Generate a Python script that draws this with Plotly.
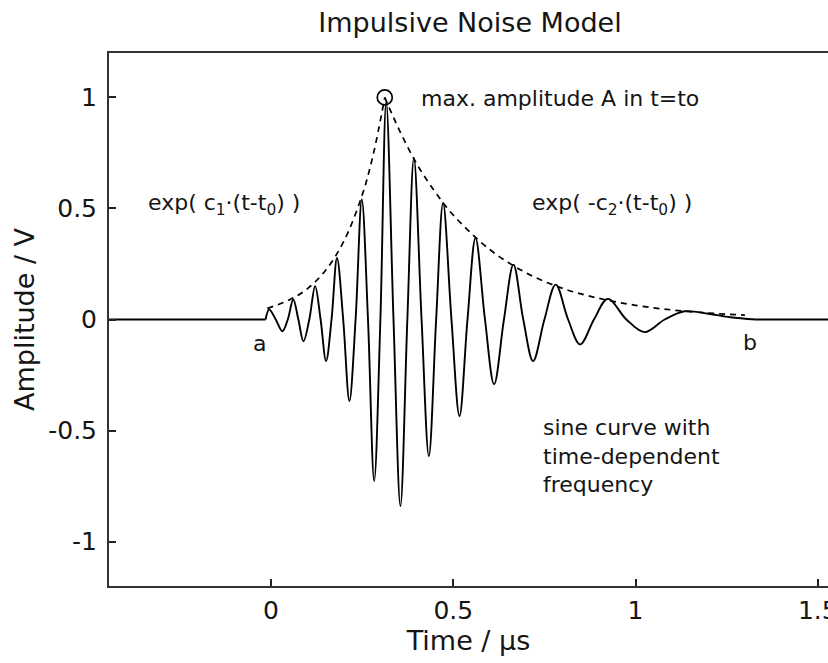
import plotly.graph_objects as go

# ---- data ----
# flat parts of the signal before a and after b
lead_t = [-0.4445, -0.015]
lead_v = [0.0, 0.0]
tail_t = [1.33, 1.528]
tail_v = [0.0, 0.0]
# oscillating part: sine with time-dependent frequency (extrema and zero crossings)
sig_t = [-0.015, -0.005, 0.013, 0.031, 0.046, 0.061, 0.075, 0.089, 0.105,
         0.121, 0.136, 0.151, 0.166, 0.181, 0.198, 0.215, 0.232, 0.249, 0.266,
         0.283, 0.300, 0.316, 0.336, 0.355, 0.374, 0.392, 0.413, 0.433, 0.453,
         0.472, 0.495, 0.517, 0.539, 0.561, 0.587, 0.612, 0.639, 0.665, 0.692,
         0.719, 0.750, 0.781, 0.815, 0.848, 0.886, 0.924, 0.975, 1.025, 1.080,
         1.135, 1.20, 1.26, 1.33]
sig_v = [0.0, 0.045, 0.0, -0.053, 0.0, 0.09, 0.0, -0.098, 0.0,
         0.15, 0.0, -0.187, 0.0, 0.277, 0.0, -0.367, 0.0, 0.54, 0.0,
         -0.727, 0.0, 0.98, 0.0, -0.84, 0.0, 0.727, 0.0, -0.615, 0.0,
         0.525, 0.0, -0.435, 0.0, 0.367, 0.0, -0.292, 0.0, 0.247, 0.0,
         -0.187, 0.0, 0.157, 0.0, -0.112, 0.0, 0.093, 0.0, -0.057, 0.0,
         0.037, 0.026, 0.01, 0.0]

# rising envelope exp(c1*(t-t0))
env_l_t = [-0.01, 0.05, 0.10, 0.15, 0.20, 0.25, 0.28, 0.312]
env_l_v = [0.05, 0.088, 0.139, 0.222, 0.353, 0.56, 0.74, 1.0]
# decaying envelope exp(-c2*(t-t0))
env_r_t = [0.312, 0.35, 0.40, 0.45, 0.50, 0.60, 0.70, 0.80, 0.90, 1.00, 1.10, 1.20, 1.30]
env_r_v = [1.0, 0.86, 0.70, 0.575, 0.47, 0.315, 0.21, 0.14, 0.095, 0.064, 0.043, 0.029, 0.02]

peak_t = [0.312]
peak_v = [1.0]

x_ticks = [0, 0.5, 1, 1.5]
x_ticktext = ["0", "0.5", "1", "1.5"]
y_ticks = [-1, -0.5, 0, 0.5, 1]
y_ticktext = ["-1", "-0.5", "0", "0.5", "1"]

FONT = "DejaVu Sans, Verdana, sans-serif"
INK = "#151515"

fig = go.Figure()
for xs, ys in [(lead_t, lead_v), (tail_t, tail_v)]:
    fig.add_trace(go.Scatter(x=xs, y=ys, mode="lines",
                             line=dict(color="black", width=1.9),
                             showlegend=False, hoverinfo="skip"))
fig.add_trace(go.Scatter(x=sig_t, y=sig_v, mode="lines",
                         line=dict(color="black", width=1.9, shape="spline", smoothing=1.0),
                         showlegend=False, hoverinfo="skip"))
fig.add_trace(go.Scatter(x=env_l_t, y=env_l_v, mode="lines",
                         line=dict(color="black", width=1.7, dash="6px,5px", shape="spline"),
                         showlegend=False, hoverinfo="skip"))
fig.add_trace(go.Scatter(x=env_r_t, y=env_r_v, mode="lines",
                         line=dict(color="black", width=1.7, dash="6px,5px", shape="spline"),
                         showlegend=False, hoverinfo="skip"))
fig.add_trace(go.Scatter(x=peak_t, y=peak_v, mode="markers",
                         marker=dict(symbol="circle-open", size=15, color="black",
                                     line=dict(width=1.7, color="black")),
                         showlegend=False, hoverinfo="skip"))

ann_font = dict(family=FONT, size=22, color=INK)
annotations = [
    dict(x=0.405, y=0.995, text="max. amplitude A in t=to", xanchor="left", yanchor="middle"),
    dict(x=-0.344, y=0.517, text="exp( c<sub>1</sub>·(t-t<sub>0</sub>) )", xanchor="left", yanchor="middle"),
    dict(x=1.161, y=0.517, text="exp( -c<sub>2</sub>·(t-t<sub>0</sub>) )", xanchor="right", yanchor="middle"),
    dict(x=-0.033, y=-0.108, text="a", xanchor="center", yanchor="middle"),
    dict(x=1.313, y=-0.103, text="b", xanchor="center", yanchor="middle"),
    dict(x=0.74, y=-0.616, text="sine curve with<br>time-dependent<br>frequency",
         xanchor="left", yanchor="middle", align="left"),
]
for a in annotations:
    a.update(xref="x", yref="y", showarrow=False, font=ann_font)

fig.update_layout(
    width=828, height=663,
    margin=dict(l=109, r=0, t=53, b=77, pad=0),
    paper_bgcolor="white", plot_bgcolor="white",
    font=dict(family=FONT, color=INK),
    title=dict(text="Impulsive Noise Model", x=470 / 828, xref="container", xanchor="center",
               y=1 - 23 / 663, yref="container", yanchor="middle",
               font=dict(family=FONT, size=27, color=INK)),
    annotations=annotations,
    xaxis=dict(range=[-0.4445, 1.528], tickvals=x_ticks, ticktext=x_ticktext, automargin=False,
               showgrid=False, zeroline=False, showline=True, linecolor="#333333", linewidth=2,
               mirror=True, ticks="inside", ticklen=7, tickwidth=1.5, tickcolor="#222222",
               tickfont=dict(family=FONT, size=25, color=INK), ticklabeloverflow="allow",
               ticklabelstandoff=1,
               title=dict(text="Time / µs", font=dict(family=FONT, size=27, color=INK), standoff=4)),
    yaxis=dict(range=[-1.2, 1.2], tickvals=y_ticks, ticktext=y_ticktext, automargin=False,
               showgrid=False, zeroline=False, showline=True, linecolor="#333333", linewidth=2,
               mirror=False, ticks="inside", ticklen=7, tickwidth=1.5, tickcolor="#222222",
               tickfont=dict(family=FONT, size=25, color=INK), ticklabelstandoff=5,
               title=dict(text="Amplitude / V", font=dict(family=FONT, size=27, color=INK), standoff=6)),
)

fig.write_html("out.html")
